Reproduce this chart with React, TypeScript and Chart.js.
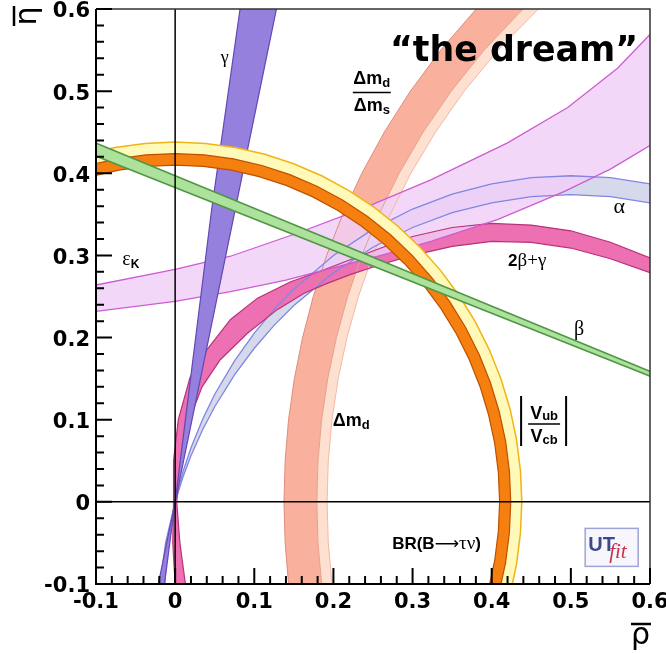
import React, { useEffect, useRef } from "react";
import { Chart, registerables } from "chart.js";

Chart.register(...registerables);

type P = [number, number];

// ---------- axes ----------
const xMajorTicks = [-0.1, 0, 0.1, 0.2, 0.3, 0.4, 0.5, 0.6];
const xTickLabels = ["-0.1", "0", "0.1", "0.2", "0.3", "0.4", "0.5", "0.6"];
const yMajorTicks = [-0.1, 0, 0.1, 0.2, 0.3, 0.4, 0.5, 0.6];
const yTickLabels = ["-0.1", "0", "0.1", "0.2", "0.3", "0.4", "0.5", "0.6"];
const minorTicks = [
  -0.08, -0.06, -0.04, -0.02, 0.02, 0.04, 0.06, 0.08, 0.12, 0.14, 0.16, 0.18,
  0.22, 0.24, 0.26, 0.28, 0.32, 0.34, 0.36, 0.38, 0.42, 0.44, 0.46, 0.48,
  0.52, 0.54, 0.56, 0.58,
];

// ---------- band boundaries (rho, eta) ----------
// Delta m_d (wide salmon band), outer edge
const dmdOuter: P[] = [
  [0.1459, -0.12], [0.1433, -0.1], [0.139, -0.05], [0.1375, 0], [0.139, 0.05],
  [0.1433, 0.1], [0.1506, 0.15], [0.161, 0.2], [0.1745, 0.25], [0.1914, 0.3],
  [0.2117, 0.35], [0.2359, 0.4], [0.2642, 0.45], [0.2972, 0.5], [0.3356, 0.55],
  [0.3804, 0.6], [0.4331, 0.65],
];
// boundary between Delta m_d and Delta m_d / Delta m_s
const dmdMid: P[] = [
  [0.1878, -0.12], [0.1851, -0.1], [0.1805, -0.05], [0.179, 0], [0.1805, 0.05],
  [0.1851, 0.1], [0.1928, 0.15], [0.2038, 0.2], [0.218, 0.25], [0.2358, 0.3],
  [0.2574, 0.35], [0.2831, 0.4], [0.3133, 0.45], [0.3488, 0.5], [0.3905, 0.55],
  [0.4396, 0.6], [0.4985, 0.65],
];
// Delta m_d / Delta m_s inner edge
const dmsInner: P[] = [
  [0.2009, -0.12], [0.1982, -0.1], [0.1935, -0.05], [0.192, 0], [0.1935, 0.05],
  [0.1982, 0.1], [0.206, 0.15], [0.2171, 0.2], [0.2316, 0.25], [0.2497, 0.3],
  [0.2717, 0.35], [0.2979, 0.4], [0.3289, 0.45], [0.3653, 0.5], [0.4081, 0.55],
  [0.4588, 0.6], [0.52, 0.65],
];
// gamma wedge
const gammaLeft: P[] = [[-0.0135, -0.1], [0, 0], [0.046, 0.355], [0.082, 0.6], [0.089, 0.65]];
const gammaRight: P[] = [[-0.0213, -0.1], [0, 0], [0.064, 0.3], [0.128, 0.6], [0.139, 0.65]];
// alpha
const alphaUpper: P[] = [
  [-0.0132, -0.1], [-0.0091, -0.05], [0, 0], [0.01, 0.0369], [0.02, 0.0658],
  [0.035, 0.1013], [0.05, 0.131], [0.075, 0.1717], [0.1, 0.2055], [0.125, 0.2343],
  [0.15, 0.259], [0.2, 0.3], [0.25, 0.332], [0.3, 0.3565], [0.35, 0.3746],
  [0.4, 0.387], [0.45, 0.3946], [0.5, 0.397], [0.55, 0.3946], [0.6, 0.387], [0.65, 0.3746],
];
const alphaLower: P[] = [
  [-0.0191, -0.1], [-0.0121, -0.05], [0, 0], [0.01, 0.0306], [0.02, 0.056],
  [0.035, 0.0884], [0.05, 0.1158], [0.075, 0.1546], [0.1, 0.187], [0.125, 0.2149],
  [0.15, 0.2391], [0.2, 0.279], [0.25, 0.31], [0.3, 0.334], [0.35, 0.352],
  [0.4, 0.364], [0.45, 0.3716], [0.5, 0.374], [0.55, 0.3716], [0.6, 0.364], [0.65, 0.352],
];
// 2beta + gamma
const bgUpper: P[] = [
  [0.0, -0.1], [-0.003, -0.05], [-0.002, 0], [-0.002, 0.05], [0.004, 0.1],
  [0.019, 0.152], [0.04, 0.185], [0.07, 0.222], [0.104, 0.248], [0.146, 0.268],
  [0.184, 0.281], [0.222, 0.295], [0.26, 0.309], [0.3, 0.323], [0.35, 0.334],
  [0.4, 0.339], [0.45, 0.337], [0.5, 0.33], [0.55, 0.316], [0.6, 0.297], [0.65, 0.275],
];
const bgLower: P[] = [
  [0.013, -0.1], [0.006, -0.05], [0.002, 0], [0.007, 0.05], [0.018, 0.1],
  [0.034, 0.14], [0.057, 0.173], [0.091, 0.205], [0.129, 0.234], [0.163, 0.254],
  [0.192, 0.266], [0.222, 0.277], [0.26, 0.289], [0.3, 0.3], [0.35, 0.311],
  [0.4, 0.317], [0.45, 0.316], [0.5, 0.309], [0.55, 0.296], [0.6, 0.279], [0.65, 0.258],
];
// epsilon_K
const epsUpper: P[] = [
  [-0.12, 0.26], [-0.1, 0.264], [0, 0.283], [0.07, 0.299], [0.154, 0.327],
  [0.239, 0.358], [0.323, 0.392], [0.42, 0.437], [0.496, 0.48], [0.559, 0.528],
  [0.601, 0.57], [0.62, 0.592],
];
const epsLower: P[] = [
  [-0.12, 0.229], [-0.1, 0.232], [0, 0.244], [0.07, 0.256], [0.14, 0.27],
  [0.2, 0.285], [0.26, 0.3], [0.323, 0.317], [0.408, 0.344], [0.492, 0.378],
  [0.55, 0.405], [0.602, 0.435], [0.62, 0.446],
];
// |Vub/Vcb| (orange) inner and outer edge, BR(B->tau nu) (yellow) outer edge
const vubInner: P[] = [
  [-0.1402, 0.3853], [-0.1061, 0.396], [-0.0712, 0.4038], [-0.0358, 0.4084], [0, 0.41],
  [0.0358, 0.4084], [0.0712, 0.4038], [0.1061, 0.396], [0.1402, 0.3853], [0.1733, 0.3716],
  [0.205, 0.3551], [0.2352, 0.3359], [0.2635, 0.3141], [0.2899, 0.2899], [0.3141, 0.2635],
  [0.3359, 0.2352], [0.3551, 0.205], [0.3716, 0.1733], [0.3853, 0.1402], [0.396, 0.1061],
  [0.4038, 0.0712], [0.4084, 0.0358], [0.41, 0], [0.4084, -0.0358], [0.4038, -0.0712],
  [0.396, -0.1061], [0.3853, -0.1402],
];
const vubOuter: P[] = [
  [-0.145, 0.3984], [-0.1097, 0.4095], [-0.0736, 0.4176], [-0.037, 0.4224], [0, 0.424],
  [0.037, 0.4224], [0.0736, 0.4176], [0.1097, 0.4095], [0.145, 0.3984], [0.1792, 0.3843],
  [0.212, 0.3672], [0.2432, 0.3473], [0.2725, 0.3248], [0.2998, 0.2998], [0.3248, 0.2725],
  [0.3473, 0.2432], [0.3672, 0.212], [0.3843, 0.1792], [0.3984, 0.145], [0.4095, 0.1097],
  [0.4176, 0.0736], [0.4224, 0.037], [0.424, 0], [0.4224, -0.037], [0.4176, -0.0736],
  [0.4095, -0.1097], [0.3984, -0.145],
];
const btnOuter: P[] = [
  [-0.1498, 0.4116], [-0.1134, 0.4231], [-0.076, 0.4313], [-0.0382, 0.4363], [0, 0.438],
  [0.0382, 0.4363], [0.076, 0.4313], [0.1134, 0.4231], [0.1498, 0.4116], [0.1851, 0.397],
  [0.219, 0.3793], [0.2512, 0.3588], [0.2815, 0.3355], [0.3097, 0.3097], [0.3355, 0.2815],
  [0.3588, 0.2512], [0.3793, 0.219], [0.397, 0.1851], [0.4116, 0.1498], [0.4231, 0.1134],
  [0.4313, 0.076], [0.4363, 0.0382], [0.438, 0], [0.4363, -0.0382], [0.4313, -0.076],
  [0.4231, -0.1134], [0.4116, -0.1498],
];
// beta
const betaUpper: P[] = [[-0.12, 0.4446], [0.62, 0.1509]];
const betaLower: P[] = [[-0.12, 0.4286], [0.62, 0.1454]];

// ---------- helpers ----------
const pts = (a: P[]) => a.map(([x, y]) => ({ x, y }));
const FAR_L = { x: -10, y: -10 };
const FAR_R = { x: 10, y: -10 };
function bandPolygon(a: P[], b: P[]) {
  const A = pts(a);
  const B = pts(b).reverse();
  return [FAR_L, ...A, ...B, A[0], FAR_L, FAR_R];
}
function fillDs(a: P[], b: P[], color: string) {
  return {
    data: bandPolygon(a, b),
    fill: "shape",
    backgroundColor: color,
    borderColor: "transparent",
    borderWidth: 0,
    pointRadius: 0,
    tension: 0,
  };
}
function edgeDs(a: P[], color: string, w = 1.2) {
  return {
    data: pts(a),
    fill: false,
    borderColor: color,
    borderWidth: w,
    pointRadius: 0,
    tension: 0,
  };
}

type Run = [string, string, number];
function runs(ctx: CanvasRenderingContext2D, x: number, y: number, parts: Run[], align = "left", color = "#000") {
  ctx.fillStyle = color;
  ctx.textBaseline = "alphabetic";
  ctx.textAlign = "left";
  let w = 0;
  for (const [t, f] of parts) {
    ctx.font = f;
    w += ctx.measureText(t).width;
  }
  let cx = align === "center" ? x - w / 2 : x;
  for (const [t, f, dy] of parts) {
    ctx.font = f;
    ctx.fillText(t, cx, y + dy);
    cx += ctx.measureText(t).width;
  }
  return w;
}
const SB = (s: number) => `bold ${s}px "Liberation Sans"`;
const SR = (s: number) => `${s}px "Liberation Serif"`;

const decor = {
  id: "decor",
  afterDatasetsDraw(chart: any) {
    const { ctx, chartArea: a, scales } = chart;
    const xs = scales.x;
    const ys = scales.y;
    const X = (v: number) => xs.getPixelForValue(v);
    const Y = (v: number) => ys.getPixelForValue(v);
    ctx.save();
    // zero lines
    ctx.strokeStyle = "#000";
    ctx.lineWidth = 1.5;
    ctx.beginPath();
    ctx.moveTo(X(0), a.top);
    ctx.lineTo(X(0), a.bottom);
    ctx.moveTo(a.left, Y(0));
    ctx.lineTo(a.right, Y(0));
    ctx.stroke();
    // frame
    ctx.strokeStyle = "#333";
    ctx.lineWidth = 1.5;
    ctx.beginPath();
    ctx.moveTo(a.left, a.top);
    ctx.lineTo(a.right, a.top);
    ctx.lineTo(a.right, a.bottom);
    ctx.stroke();
    ctx.strokeStyle = "#000";
    ctx.lineWidth = 2;
    ctx.beginPath();
    ctx.moveTo(a.left, a.top);
    ctx.lineTo(a.left, a.bottom);
    ctx.lineTo(a.right, a.bottom);
    ctx.stroke();
    // tick marks
    ctx.beginPath();
    for (const v of yMajorTicks) { const y = Y(v); ctx.moveTo(a.left, y); ctx.lineTo(a.left + 16, y); }
    for (const v of minorTicks) { const y = Y(v); ctx.moveTo(a.left, y); ctx.lineTo(a.left + 8, y); }
    for (const v of xMajorTicks) { const x = X(v); ctx.moveTo(x, a.bottom); ctx.lineTo(x, a.bottom - 16); }
    for (const v of minorTicks) { const x = X(v); ctx.moveTo(x, a.bottom); ctx.lineTo(x, a.bottom - 8); }
    ctx.stroke();

    // band labels
    runs(ctx, X(0.0625), Y(0.5338), [["γ", SR(18), 0]], "center");
    runs(ctx, X(-0.0667), Y(0.2887), [["ε", SR(20), 0], ["K", SB(12), 3]]);
    {
      const cx = X(0.2485), ly = Y(0.4984);
      runs(ctx, cx, ly - 8, [["Δm", SB(18), 0], ["d", SB(13), 3]], "center");
      ctx.lineWidth = 1.5;
      ctx.beginPath(); ctx.moveTo(cx - 19, ly); ctx.lineTo(cx + 19, ly); ctx.stroke();
      runs(ctx, cx, ly + 19, [["Δm", SB(18), 0], ["s", SB(13), 3]], "center");
    }
    runs(ctx, X(0.5611), Y(0.3521), [["α", SR(22), 0]], "center");
    runs(ctx, X(0.4207), Y(0.2874), [["2", SB(17), 0], ["β+γ", SR(19), 0]]);
    runs(ctx, X(0.5105), Y(0.2033), [["β", SR(20), 0]], "center");
    runs(ctx, X(0.1991), Y(0.0923), [["Δm", SB(18), 0], ["d", SB(13), 3]]);
    {
      const cx = X(0.4662), ly = Y(0.0948);
      runs(ctx, cx, ly - 5, [["V", SB(18), 0], ["ub", SB(13), 1]], "center");
      runs(ctx, cx, ly + 18, [["V", SB(18), 0], ["cb", SB(13), 2]], "center");
      ctx.lineWidth = 1.5;
      ctx.beginPath(); ctx.moveTo(cx - 16, ly); ctx.lineTo(cx + 16, ly); ctx.stroke();
      ctx.lineWidth = 2;
      ctx.beginPath();
      ctx.moveTo(cx - 23, ly - 28); ctx.lineTo(cx - 23, ly + 22);
      ctx.moveTo(cx + 22, ly - 28); ctx.lineTo(cx + 22, ly + 22);
      ctx.stroke();
    }
    runs(ctx, X(0.2742), Y(-0.0577), [
      ["BR(B", SB(17), 0],
      ["⟶", `17px "DejaVu Sans"`, 0],
      ["τν", SR(19), 0],
      [")", SB(17), 0],
    ]);

    // UTfit logo
    {
      const x0 = X(0.5181), y0 = Y(-0.0323);
      ctx.fillStyle = "#f6f6fc";
      ctx.fillRect(x0, y0, 53, 38);
      ctx.strokeStyle = "#9ea4d4";
      ctx.lineWidth = 1.5;
      ctx.strokeRect(x0, y0, 53, 38);
      runs(ctx, x0 + 3, y0 + 23, [["UT", `bold 20px "Liberation Sans Narrow", "Liberation Sans"`, 0]], "left", "#3b4a8f");
      runs(ctx, x0 + 24, y0 + 30, [["fit", `italic 21px "Liberation Serif"`, 0]], "left", "#c8304a");
    }

    // title
    ctx.fillStyle = "#000";
    ctx.font = `bold 36px "DejaVu Sans"`;
    ctx.textAlign = "left";
    ctx.textBaseline = "alphabetic";
    ctx.fillText("“the dream”", 390, 61, 248);

    // axis titles
    ctx.font = `30px "DejaVu Sans"`;
    ctx.fillText("ρ", 631, 644);
    ctx.lineWidth = 2.5;
    ctx.strokeStyle = "#000";
    ctx.beginPath(); ctx.moveTo(631, 624); ctx.lineTo(651, 624); ctx.stroke();
    ctx.save();
    ctx.translate(36, 16);
    ctx.rotate(-Math.PI / 2);
    ctx.textAlign = "center";
    ctx.fillText("η", 0, 0);
    ctx.beginPath(); ctx.moveTo(-10, -22); ctx.lineTo(10, -22); ctx.stroke();
    ctx.restore();

    ctx.restore();
  },
};

export default function App() {
  const ref = useRef<HTMLCanvasElement | null>(null);
  useEffect(() => {
    if (!ref.current) return;
    const layers: any[] = [
      fillDs(dmdOuter, dmdMid, "rgb(249,176,156)"),
      fillDs(dmdMid, dmsInner, "rgb(253,224,208)"),
      fillDs(alphaUpper, alphaLower, "rgb(214,216,236)"),
      fillDs(bgUpper, bgLower, "rgb(236,112,178)"),
      fillDs(epsUpper, epsLower, "rgba(240,206,246,0.82)"),
      edgeDs(dmdOuter, "rgb(222,140,125)", 1),
      edgeDs(dmdMid, "rgb(228,160,140)", 1),
      edgeDs(dmsInner, "rgb(240,186,166)", 1),
      edgeDs(alphaUpper, "rgb(128,134,226)", 1.3),
      edgeDs(alphaLower, "rgb(128,134,226)", 1.3),
      edgeDs(bgUpper, "rgb(185,50,120)", 1.2),
      edgeDs(bgLower, "rgb(185,50,120)", 1.2),
      edgeDs(epsUpper, "rgb(205,92,210)", 1.3),
      edgeDs(epsLower, "rgb(205,92,210)", 1.3),
      fillDs(gammaLeft, gammaRight, "rgb(150,128,222)"),
      edgeDs(gammaLeft, "rgb(100,70,180)", 1.2),
      edgeDs(gammaRight, "rgb(100,70,180)", 1.2),
      fillDs(vubOuter, btnOuter, "rgb(255,250,185)"),
      edgeDs(btnOuter, "rgb(240,180,20)", 1.5),
      fillDs(vubInner, vubOuter, "rgb(245,128,15)"),
      edgeDs(vubInner, "rgb(190,80,0)", 1.2),
      edgeDs(vubOuter, "rgb(190,80,0)", 1.2),
      fillDs(betaUpper, betaLower, "rgb(172,226,155)"),
      edgeDs(betaUpper, "rgb(80,150,70)", 1.5),
      edgeDs(betaLower, "rgb(80,150,70)", 1.5),
    ];
    const n = layers.length;
    const datasets = layers.map((d, i) => ({ ...d, order: n - i }));
    const tickFont = { family: "DejaVu Sans", size: 21, weight: "bold" as const };
    const chart = new Chart(ref.current, {
      type: "line",
      data: { datasets },
      options: {
        animation: false,
        responsive: false,
        maintainAspectRatio: false,
        layout: { padding: { left: 0, right: 16, top: 9, bottom: 0 } },
        plugins: { legend: { display: false }, tooltip: { enabled: false } },
        elements: { point: { radius: 0 } },
        scales: {
          x: {
            type: "linear",
            min: -0.1,
            max: 0.6,
            afterBuildTicks: (s: any) => { s.ticks = xMajorTicks.map((v) => ({ value: v })); },
            afterFit: (s: any) => { s.height = 70; s.paddingLeft = 0; s.paddingRight = 0; },
            ticks: {
              callback: (_v: any, i: number) => xTickLabels[i],
              font: tickFont,
              color: "#000",
              padding: 6,
              maxRotation: 0,
              autoSkip: false,
            },
            grid: { display: false, drawTicks: false },
            border: { display: false },
          },
          y: {
            type: "linear",
            min: -0.1,
            max: 0.6,
            afterBuildTicks: (s: any) => { s.ticks = yMajorTicks.map((v) => ({ value: v })); },
            afterFit: (s: any) => { s.width = 96; s.paddingTop = 0; s.paddingBottom = 0; },
            ticks: {
              callback: (_v: any, i: number) => yTickLabels[i],
              font: tickFont,
              color: "#000",
              padding: 6,
              labelOffset: 3,
              autoSkip: false,
            },
            grid: { display: false, drawTicks: false },
            border: { display: false },
          },
        },
      },
      plugins: [decor],
    } as any);
    return () => chart.destroy();
  }, []);
  return (
    <div style={{ position: "absolute", left: 0, top: 0, width: 666, height: 654, background: "#fff" }}>
      <canvas ref={ref} width={666} height={654} style={{ display: "block" }} />
    </div>
  );
}
